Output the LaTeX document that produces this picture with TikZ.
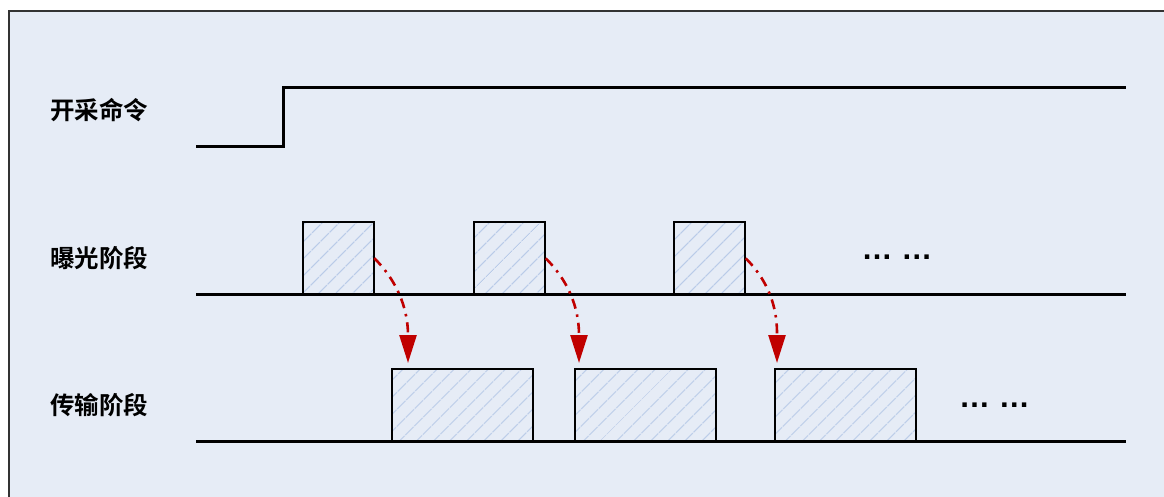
\documentclass[tikz,border=0pt]{standalone}
\usepackage{fontspec}
\newfontfamily\cjk{Noto Sans CJK SC}[BoldFont={Noto Sans CJK SC Bold}]
\newfontfamily\dotfont{Liberation Sans}
\usetikzlibrary{arrows.meta,patterns.meta}
\definecolor{bgblue}{HTML}{E6ECF6}
\definecolor{hatch}{HTML}{B9CBE8}
\definecolor{arrred}{HTML}{C00000}
\tikzset{
  sig/.style={line width=3pt,black},
  lbl/.style={anchor=west,font=\cjk\bfseries\fontsize{24.5}{24.5}\selectfont,inner sep=0pt},
  dots/.style={anchor=base,font=\dotfont\bfseries\fontsize{31}{31}\selectfont,inner sep=0pt},
  hbox/.style={draw=black,line width=1.8pt,anchor=north west,inner sep=0pt,
    pattern={Lines[angle=45,distance=13pt,line width=1.2pt]},pattern color=hatch},
  ebox/.style={hbox,minimum width=71pt,minimum height=73pt},
  tbox/.style={hbox,minimum width=141pt,minimum height=73pt},
  flow/.style={arrred,line width=2.6pt,dash pattern=on 10pt off 6pt on 2.5pt off 6pt,
    -{Triangle[length=28pt,width=17pt]}}
}
\begin{document}
\begin{tikzpicture}[x=1pt,y=-1pt]
\useasboundingbox (0,0) rectangle (1164,497);
\clip (0,0) rectangle (1164,497);
\fill[white] (0,0) rectangle (1164,497);
\draw[fill=bgblue,draw=black!80,line width=1.6pt] (9,11) rectangle (1180,510);
% labels
\node[lbl] (l1) at (50,110) {开采命令};
\node[lbl] (l2) at (50,258) {曝光阶段};
\node[lbl] (l3) at (50,405) {传输阶段};
% command signal
\coordinate (c0) at (196,147);
\coordinate (c1) at (283,147);
\coordinate (c2) at (283,88);
\coordinate (c3) at (1126,88);
\draw[sig] (c0) -- (c1) -- (c2) -- (c3);
% exposure
\node[ebox] (e1) at (302,221) {};
\node[ebox] (e2) at (473,221) {};
\node[ebox] (e3) at (673,221) {};
\coordinate (b20) at (196,294);
\coordinate (b21) at (1126,294);
\draw[sig] (b20) -- (b21);
\node[dots] (d1) at (897,259.5) {… …};
% transfer
\node[tbox] (t1) at (391,368) {};
\node[tbox] (t2) at (574,368) {};
\node[tbox] (t3) at (774,368) {};
\coordinate (b30) at (196,441);
\coordinate (b31) at (1126,441);
\draw[sig] (b30) -- (b31);
\node[dots] (d2) at (994.5,407.5) {… …};
% arrows
\draw[flow,shorten >=5pt] (e1.east) to[out=-45,in=90] ([xshift=17pt]t1.north west);
\draw[flow,shorten >=5pt] (e2.east) to[out=-45,in=90] ([xshift=5pt]t2.north west);
\draw[flow,shorten >=5pt] (e3.east) to[out=-45,in=90] ([xshift=3pt]t3.north west);
\end{tikzpicture}
\end{document}
